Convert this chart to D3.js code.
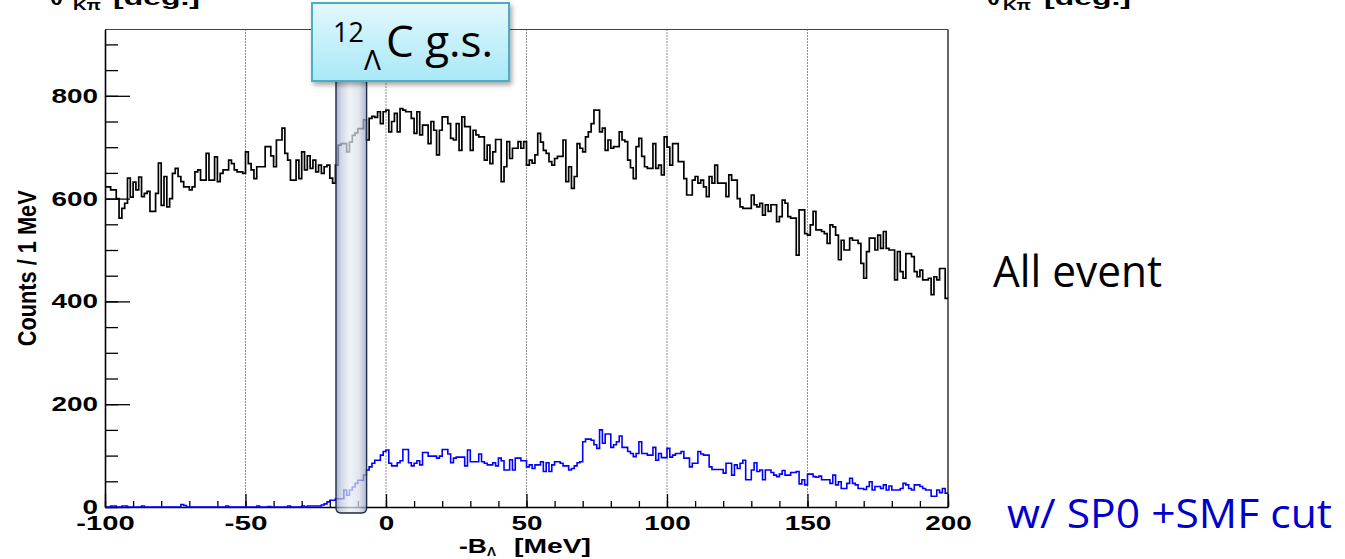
<!DOCTYPE html>
<html>
<head>
<meta charset="utf-8">
<script src="https://cdn.jsdelivr.net/npm/d3@7"></script>
<style>
body { margin: 0; background: #fff; }
svg { display: block; }
.root { font-family: "Liberation Sans", Arial, sans-serif; font-weight: bold; fill: #000; }
.note { font-family: "Open Sans", "Noto Sans", sans-serif; }
</style>
</head>
<body>
<svg id="chart" width="1345" height="559"></svg>
<script>
// histogram binning: 1 MeV bins starting at -100
var binLow = -100, binWidth = 1;

// all events, bins -100 .. 199
var allEvent = [
  623,623,617,617,600,562,581,591,640,603,
  632,617,642,604,610,614,575,575,610,669,
  587,643,584,600,649,659,643,633,623,623,
  617,623,652,656,636,636,688,636,636,681,
  633,649,656,656,675,668,656,652,652,649,
  691,668,656,639,662,662,662,701,701,683,
  662,714,714,737,688,675,636,636,675,639,
  691,656,683,659,675,652,665,649,662,665,
  640,630,665,704,707,707,691,710,723,728,
  736,736,753,714,756,760,758,769,746,769,
  772,730,750,766,730,775,772,769,769,756,
  727,769,724,743,743,707,750,733,685,733,
  759,759,746,717,714,746,694,759,740,740,
  694,733,724,720,720,675,704,668,691,715,
  715,633,662,711,678,698,698,711,698,711,
  665,675,669,685,727,710,694,688,672,665,
  678,682,682,714,633,662,620,643,707,698,
  691,720,730,746,772,772,730,737,694,714,
  698,701,701,730,714,711,675,660,639,701,
  717,682,662,659,659,707,659,665,646,720,
  700,665,707,707,672,672,639,607,607,636,
  643,630,636,623,604,643,630,665,630,630,
  630,604,646,636,636,600,584,581,581,581,
  607,588,584,591,568,588,575,588,588,555,
  565,597,591,565,562,562,490,578,578,532,
  529,549,575,539,539,536,532,513,549,545,
  529,481,519,500,500,523,519,519,513,474,
  445,497,523,523,500,529,503,536,503,500,
  500,442,497,458,445,493,493,487,458,448,
  461,442,442,445,413,448,442,464,464,406
];

// w/ SP0 + SMF cut, bins -100 .. 199
var cutEvent = [
  0,0,2,2,0,0,2,2,0,0,
  0,0,0,2,0,0,0,0,0,0,
  0,0,0,0,0,0,0,5,3,0,
  0,0,0,0,0,0,0,0,0,0,
  0,0,0,2,0,0,0,0,0,0,
  0,0,0,0,2,0,0,0,1,0,
  0,0,0,0,0,2,0,0,0,0,
  2,0,2,2,2,2,2,4,6,10,
  13,13,16,16,16,33,23,33,39,46,
  52,52,62,72,78,85,91,91,101,108,
  111,85,80,80,86,90,112,112,86,80,
  85,90,82,106,106,99,99,99,95,99,
  112,112,103,86,95,97,97,97,80,111,
  88,88,88,103,88,85,82,82,86,80,
  95,90,72,72,92,72,95,95,90,90,
  78,82,75,82,82,88,69,86,69,82,
  88,88,85,80,80,72,75,80,86,88,
  127,132,132,130,121,114,150,124,142,142,
  116,121,127,138,116,116,108,104,98,104,
  127,104,104,101,101,116,91,104,96,96,
  114,97,101,104,104,108,95,95,78,85,
  85,108,103,101,101,78,73,73,73,73,
  66,85,85,62,82,75,85,91,53,53,
  72,86,69,72,53,72,72,67,62,59,
  64,71,62,62,67,67,69,45,53,43,
  64,64,59,58,60,53,53,53,46,62,
  43,49,36,36,46,56,46,43,36,36,
  34,40,49,33,40,40,36,43,33,41,
  33,33,33,36,46,43,36,33,43,43,
  40,36,33,33,21,21,33,28,36,27
];

var xDomain = [-100, 200];
var yDomain = [0, 929];
var xMajorTicks = [-100, -50, 0, 50, 100, 150, 200];
var xGridLines = [-50, 0, 50, 100, 150];
var yMajorTicks = [0, 200, 400, 600, 800];
var gsBand = [-17.8, -6.9];

var W = 1345, H = 559;
var margin = {left: 105, right: 397, top: 29.5, bottom: 52};

var svg = d3.select("#chart");
var defs = svg.append("defs");

var x = d3.scaleLinear().domain(xDomain).range([margin.left, W - margin.right]);
var y = d3.scaleLinear().domain(yDomain).range([H - margin.bottom, margin.top]);

// dotted vertical grid
svg.append("g").selectAll("line")
  .data(xGridLines).enter().append("line")
  .attr("x1", function(d){ return x(d); }).attr("x2", function(d){ return x(d); })
  .attr("y1", y(yDomain[1])).attr("y2", y(0))
  .attr("stroke", "#222").attr("stroke-width", 1)
  .attr("stroke-dasharray", "1,2");

// frame top/right
svg.append("line").attr("x1", x(xDomain[0])).attr("x2", x(xDomain[1]))
  .attr("y1", y(yDomain[1])).attr("y2", y(yDomain[1]))
  .attr("stroke", "#444").attr("stroke-width", 1.2);
svg.append("line").attr("x1", x(xDomain[1])).attr("x2", x(xDomain[1]))
  .attr("y1", y(yDomain[1])).attr("y2", y(0))
  .attr("stroke", "#333").attr("stroke-width", 1.5);

// axes (ROOT style, ticks inside)
var gxMinor = svg.append("g").attr("transform", "translate(0," + y(0) + ")")
  .call(d3.axisBottom(x).tickValues(d3.range(xDomain[0], xDomain[1] + 1, 10))
    .tickSizeInner(-6).tickSizeOuter(0).tickFormat(""));
gxMinor.select(".domain").remove();

var gx = svg.append("g").attr("class", "root").attr("transform", "translate(0," + y(0) + ")")
  .call(d3.axisBottom(x).tickValues(xMajorTicks).tickSizeInner(-13).tickSizeOuter(0).tickPadding(9));

var gyMinor = svg.append("g").attr("transform", "translate(" + x(xDomain[0]) + ",0)")
  .call(d3.axisLeft(y).tickValues(d3.range(0, yDomain[1], 50))
    .tickSizeInner(-13).tickSizeOuter(0).tickFormat(""));
gyMinor.select(".domain").remove();

var gy = svg.append("g").attr("class", "root").attr("transform", "translate(" + x(xDomain[0]) + ",0)")
  .call(d3.axisLeft(y).tickValues(yMajorTicks).tickSizeInner(-25).tickSizeOuter(0).tickPadding(7));

svg.selectAll(".tick line").attr("stroke", "#000").attr("stroke-width", 1.3);
svg.selectAll(".domain").attr("stroke", "#000").attr("stroke-width", 1.6);

function labelWidth(s) {
  var w = 0;
  for (var i = 0; i < s.length; i++) w += (s[i] === "-" || s[i] === "\u2212") ? 12 : 15.5;
  return w;
}
gx.selectAll(".tick text")
  .text(function(d){ return String(d); })
  .attr("font-size", 20).attr("font-family", null).attr("fill", "#000")
  .attr("textLength", function(d){ return labelWidth(String(d)); })
  .attr("lengthAdjust", "spacingAndGlyphs");
gy.selectAll(".tick text")
  .attr("font-size", 20).attr("font-family", null).attr("fill", "#000")
  .attr("textLength", function(d){ return labelWidth(String(d)); })
  .attr("lengthAdjust", "spacingAndGlyphs");

// histograms as step lines
function histPoints(vals) {
  var pts = vals.map(function(v, i){ return [binLow + i * binWidth, v]; });
  pts.push([binLow + vals.length * binWidth, vals[vals.length - 1]]);
  return pts;
}
var step = d3.line()
  .x(function(d){ return x(d[0]); })
  .y(function(d){ return y(d[1]); })
  .curve(d3.curveStepAfter);

svg.append("path").attr("d", step(histPoints(allEvent)))
  .attr("fill", "none").attr("stroke", "#000").attr("stroke-width", 1.7);
svg.append("path").attr("d", step(histPoints(cutEvent)))
  .attr("fill", "none").attr("stroke", "#0000ff").attr("stroke-width", 1.6);

// g.s. band (cylinder look)
var bandGrad = defs.append("linearGradient").attr("id", "bandGrad")
  .attr("x1", "0%").attr("x2", "100%").attr("y1", "0%").attr("y2", "0%");
[["0%", "#8797b6"], ["18%", "#c2cbdd"], ["45%", "#e9eef6"], ["75%", "#d6dde9"], ["100%", "#8f9fbc"]]
  .forEach(function(s){ bandGrad.append("stop").attr("offset", s[0]).attr("stop-color", s[1]); });

var bx0 = x(gsBand[0]), bx1 = x(gsBand[1]);
var bTop = 60, bBot = y(0) + 6, r = 5;
var bandPath = "M" + bx0 + "," + bTop +
  "L" + bx0 + "," + (bBot - r) +
  "Q" + bx0 + "," + bBot + " " + (bx0 + r) + "," + bBot +
  "L" + (bx1 - r) + "," + bBot +
  "Q" + bx1 + "," + bBot + " " + bx1 + "," + (bBot - r) +
  "L" + bx1 + "," + bTop + "Z";
svg.append("path").attr("d", bandPath)
  .attr("fill", "url(#bandGrad)").attr("fill-opacity", 0.72)
  .attr("stroke", "#1c2a47").attr("stroke-width", 1.4);

// annotation box
var boxGrad = defs.append("linearGradient").attr("id", "boxGrad")
  .attr("x1", "0%").attr("x2", "0%").attr("y1", "0%").attr("y2", "100%");
boxGrad.append("stop").attr("offset", "0%").attr("stop-color", "#e3f8fd");
boxGrad.append("stop").attr("offset", "100%").attr("stop-color", "#a8e8f7");
var shadow = defs.append("filter").attr("id", "shadow")
  .attr("x", "-10%").attr("y", "-10%").attr("width", "125%").attr("height", "135%");
shadow.append("feDropShadow").attr("dx", 2).attr("dy", 3).attr("stdDeviation", 2.5)
  .attr("flood-color", "#000").attr("flood-opacity", 0.35);

svg.append("rect").attr("x", 312).attr("y", 3).attr("width", 197).attr("height", 78)
  .attr("fill", "url(#boxGrad)").attr("stroke", "#4aaec8").attr("stroke-width", 2)
  .attr("filter", "url(#shadow)");
svg.append("text").attr("class", "note").attr("x", 333).attr("y", 42)
  .attr("font-size", 27).text("12");
svg.append("text").attr("class", "note").attr("x", 364).attr("y", 70)
  .attr("font-size", 28).text("\u039B");
svg.append("text").attr("class", "note").attr("x", 386).attr("y", 57)
  .attr("font-size", 44).text("C g.s.");

// axis titles
svg.append("text").attr("class", "root")
  .attr("transform", "translate(36," + (y(0) + y(yDomain[1])) / 2 + ") rotate(-90)")
  .attr("text-anchor", "middle").attr("font-size", 26)
  .attr("textLength", 156).attr("lengthAdjust", "spacingAndGlyphs")
  .text("Counts / 1 MeV");

var xt = svg.append("g").attr("class", "root");
xt.append("text").attr("x", 459).attr("y", 553).attr("font-size", 21)
  .attr("textLength", 28).attr("lengthAdjust", "spacingAndGlyphs").text("-B");
xt.append("text").attr("x", 487).attr("y", 556).attr("font-size", 12)
  .attr("textLength", 9).attr("lengthAdjust", "spacingAndGlyphs").text("\u039B");
xt.append("text").attr("x", 514).attr("y", 553).attr("font-size", 21)
  .attr("textLength", 77).attr("lengthAdjust", "spacingAndGlyphs").text("[MeV]");

// clipped titles of neighbouring plots above
[[50, 73, 113], [987, 1003, 1044]].forEach(function(p){
  var g = svg.append("g").attr("class", "root");
  g.append("text").attr("x", p[0]).attr("y", 5).attr("font-size", 21)
    .attr("textLength", 13).attr("lengthAdjust", "spacingAndGlyphs").text("\u03B8");
  g.append("text").attr("x", p[1]).attr("y", 10).attr("font-size", 15)
    .attr("textLength", 28).attr("lengthAdjust", "spacingAndGlyphs").text("K\u03C0");
  g.append("text").attr("x", p[2]).attr("y", 5).attr("font-size", 21)
    .attr("textLength", 87).attr("lengthAdjust", "spacingAndGlyphs").text("[deg.]");
});

// series labels
svg.append("text").attr("class", "note").attr("x", 993).attr("y", 287)
  .attr("font-size", 43).attr("fill", "#000")
  .attr("textLength", 169).attr("lengthAdjust", "spacingAndGlyphs").text("All event");
svg.append("text").attr("class", "note").attr("x", 1007).attr("y", 528)
  .attr("font-size", 41).attr("fill", "#0000cc")
  .attr("textLength", 325).attr("lengthAdjust", "spacingAndGlyphs").text("w/ SP0 +SMF cut");
</script>
</body>
</html>
